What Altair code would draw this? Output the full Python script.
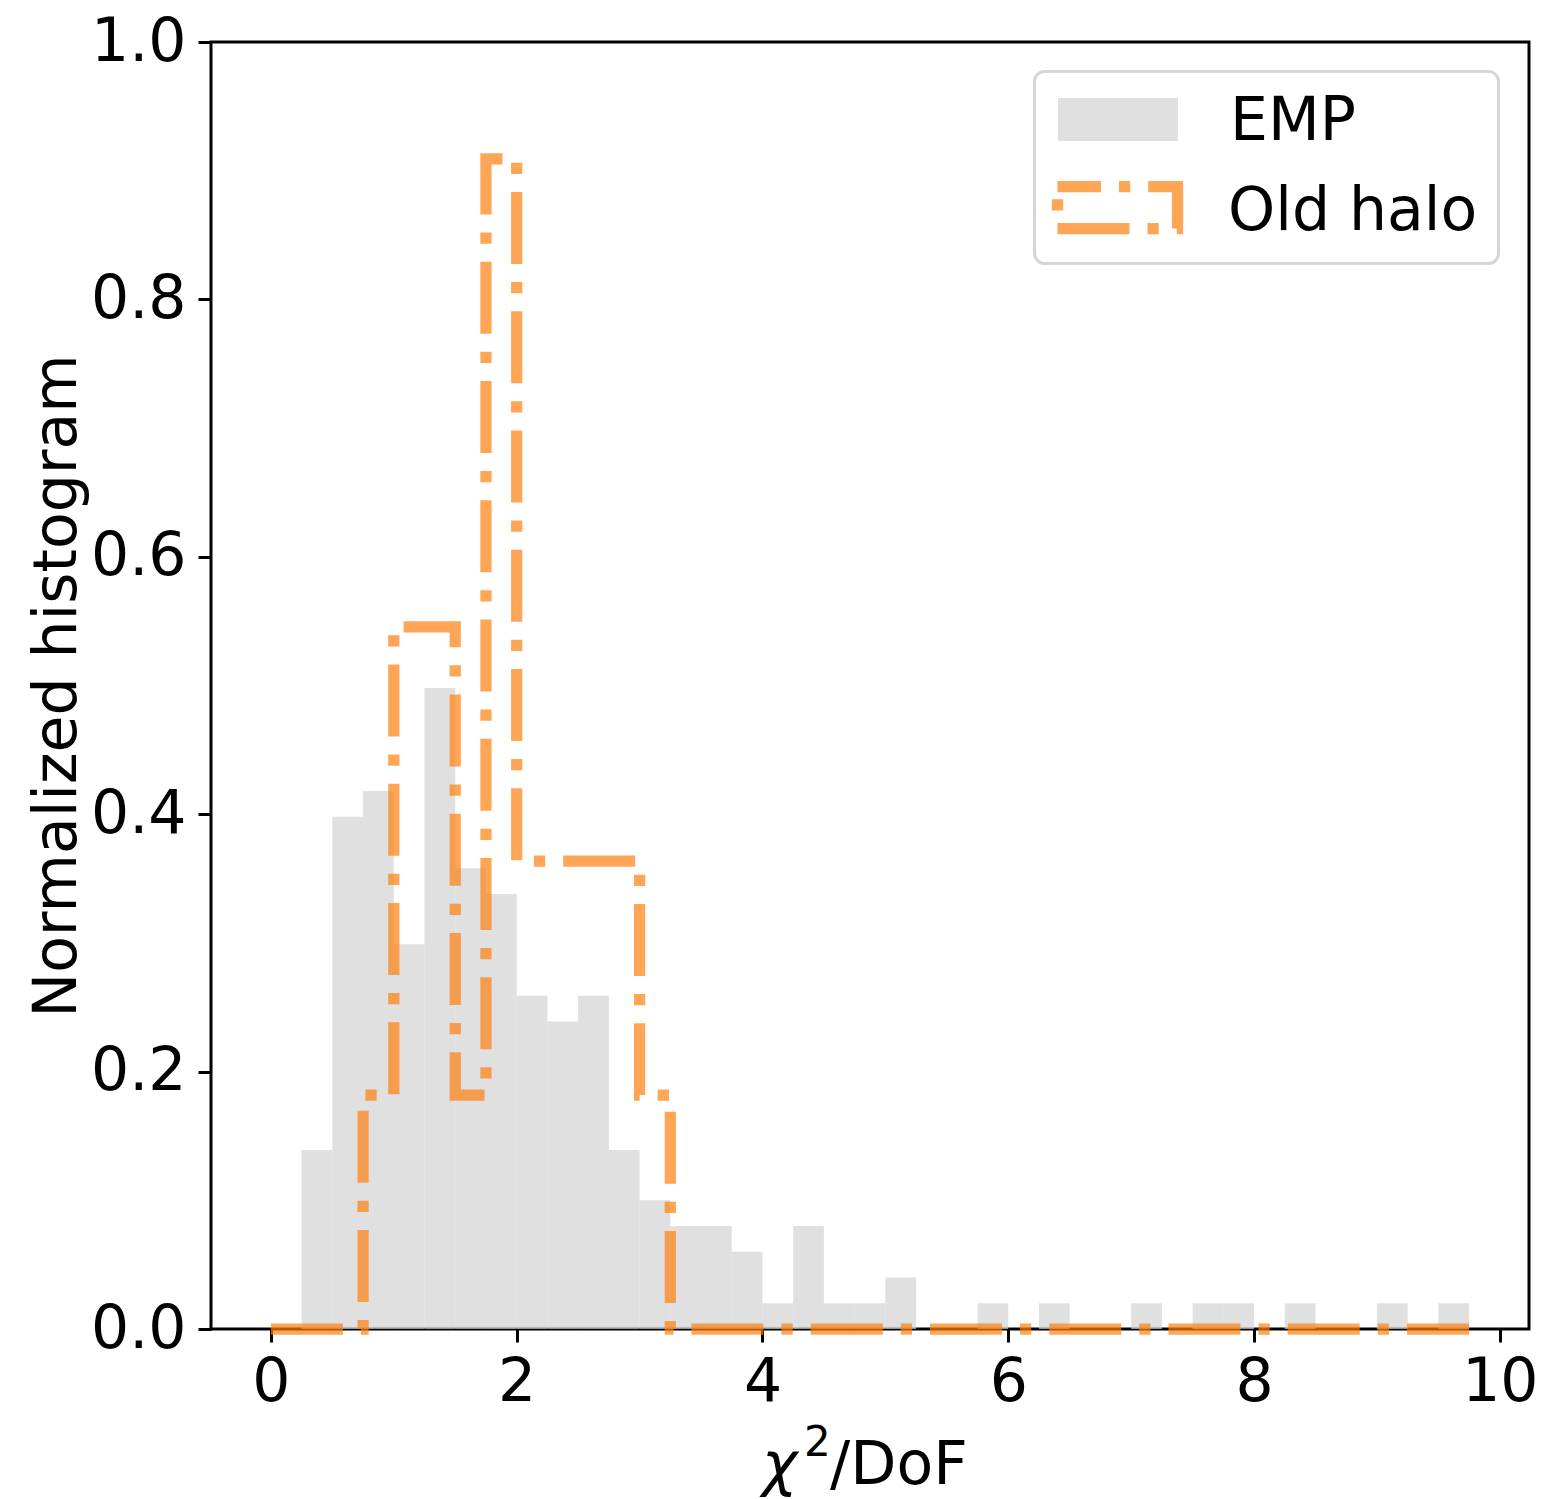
import altair as alt
import pandas as pd

# ---------------- data ----------------
BIN_WIDTH = 0.25
BIN_STARTS = [round(i * BIN_WIDTH, 2) for i in range(39)]  # 0 .. 9.5
LAST_EDGE = 9.75

EMP_HEIGHTS = [0.000, 0.139, 0.398, 0.418, 0.299, 0.498, 0.358, 0.338, 0.259, 0.239,
               0.259, 0.139, 0.100, 0.080, 0.080, 0.060, 0.020, 0.080, 0.020, 0.020,
               0.040, 0.000, 0.000, 0.020, 0.000, 0.020, 0.000, 0.000, 0.020, 0.000,
               0.020, 0.020, 0.000, 0.020, 0.000, 0.000, 0.020, 0.000, 0.020]

OLD_HALO_HEIGHTS = [0.0, 0.0, 0.0, 0.1818, 0.5455, 0.5455, 0.1818, 0.9091, 0.3636, 0.3636,
                    0.3636, 0.3636, 0.1818, 0.0, 0.0, 0.0, 0.0, 0.0, 0.0, 0.0,
                    0.0, 0.0, 0.0, 0.0, 0.0, 0.0, 0.0, 0.0, 0.0, 0.0,
                    0.0, 0.0, 0.0, 0.0, 0.0, 0.0, 0.0, 0.0, 0.0]

SERIES_LABELS = ["EMP", "Old halo"]
X_TITLE_PARTS = ["χ", "2", "/DoF"]
Y_TITLE = "Normalized histogram"
X_TICKS = [0, 2, 4, 6, 8, 10]
Y_TICKS = [0.0, 0.2, 0.4, 0.6, 0.8, 1.0]

# ---------------- tables ----------------
emp_df = pd.DataFrame({
    "x0": BIN_STARTS,
    "x1": [b + BIN_WIDTH for b in BIN_STARTS],
    "h": EMP_HEIGHTS,
})
step_df = pd.DataFrame({
    "x": BIN_STARTS + [LAST_EDGE],
    "h": OLD_HALO_HEIGHTS + [OLD_HALO_HEIGHTS[-1]],
})

FONT = "DejaVu Sans"
FS = 60
GRAY = "#d3d3d3"
ORANGE = "#ff7f0e"
LW = 11.25
DASH = [6.4 * LW, 1.6 * LW, 1.0 * LW, 1.6 * LW]

xscale = alt.Scale(domain=[-0.4875, 10.2375], nice=False, zero=False)
yscale = alt.Scale(domain=[0, 1], nice=False)

xaxis = alt.Axis(values=X_TICKS, format="d", title="", labelFlush=False,
                 labelOverlap=False, labelPadding=11)
yaxis = alt.Axis(values=Y_TICKS, format=".1f", title=Y_TITLE,
                 labelFlush=False, labelOverlap=False, labelPadding=12, titlePadding=2)

bars = alt.Chart(emp_df).mark_rect(fill=GRAY, opacity=0.7).encode(
    x=alt.X("x0:Q", scale=xscale, axis=xaxis),
    x2="x1:Q",
    y=alt.Y("h:Q", scale=yscale, axis=yaxis),
    y2=alt.datum(0),
)

step = alt.Chart(step_df).mark_line(
    interpolate="step-after", stroke=ORANGE, strokeOpacity=0.7, strokeWidth=LW,
    strokeDash=DASH, strokeCap="butt", strokeJoin="miter",
).encode(
    x=alt.X("x:Q", scale=xscale),
    y=alt.Y("h:Q", scale=yscale),
)

one = pd.DataFrame({"a": [0]})

legend_box = alt.Chart(one).mark_rect(
    fill="white", fillOpacity=0.8, stroke="#cccccc", strokeOpacity=0.8,
    strokeWidth=3, cornerRadius=10,
).encode(x=alt.value(823.5), x2=alt.value(1287.5), y=alt.value(29.5), y2=alt.value(221.5))

legend_emp = alt.Chart(one).mark_rect(fill=GRAY, opacity=0.7).encode(
    x=alt.value(847), x2=alt.value(967), y=alt.value(56), y2=alt.value(99))

legend_old = alt.Chart(one).mark_rect(
    fill="white", fillOpacity=0, stroke=ORANGE, strokeOpacity=0.7, strokeWidth=LW,
    strokeDash=DASH, strokeDashOffset=28.5, strokeJoin="miter",
).encode(x=alt.value(846.5), x2=alt.value(966.5), y=alt.value(144.5), y2=alt.value(186.5))

legend_txt1 = alt.Chart(one).mark_text(
    text=SERIES_LABELS[0], font=FONT, fontSize=FS, align="left", baseline="alphabetic", color="black"
).encode(x=alt.value(1019), y=alt.value(98))

legend_txt2 = alt.Chart(one).mark_text(
    text=SERIES_LABELS[1], font=FONT, fontSize=FS, align="left", baseline="alphabetic", color="black"
).encode(x=alt.value(1017), y=alt.value(188))

# x-axis title: italic chi, superscript 2, "/DoF"
xt_chi = alt.Chart(one).mark_text(
    text=X_TITLE_PARTS[0], font=FONT, fontSize=FS, fontStyle="italic",
    align="left", baseline="alphabetic", color="black"
).encode(x=alt.value(551), y=alt.value(1442))

xt_sup = alt.Chart(one).mark_text(
    text=X_TITLE_PARTS[1], font=FONT, fontSize=42,
    align="left", baseline="alphabetic", color="black"
).encode(x=alt.value(593), y=alt.value(1414))

xt_rest = alt.Chart(one).mark_text(
    text=X_TITLE_PARTS[2], font=FONT, fontSize=FS,
    align="left", baseline="alphabetic", color="black"
).encode(x=alt.value(619), y=alt.value(1442))

chart = alt.layer(
    bars, step, legend_box, legend_emp, legend_old, legend_txt1, legend_txt2,
    xt_chi, xt_sup, xt_rest,
).properties(
    width=1318, height=1287,
    autosize=alt.AutoSizeParams(type="none"),
    padding={"left": 211, "top": 42, "right": 14, "bottom": 170},
    background="white",
).configure_view(
    stroke="black", strokeWidth=3,
).configure_axis(
    labelFont=FONT, titleFont=FONT, labelFontSize=FS, titleFontSize=FS,
    titleFontWeight="normal", labelColor="black", titleColor="black",
    tickColor="black", tickSize=13, tickWidth=3, domain=False, grid=False,
)

chart.save("out.html", embed_options={"renderer": "svg", "actions": False})
